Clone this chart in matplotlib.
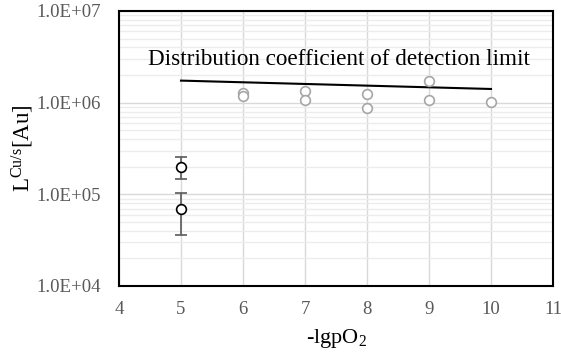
import numpy as np
import matplotlib.pyplot as plt
from matplotlib.ticker import LogLocator, NullFormatter

plt.rcParams['font.family'] = ['Liberation Serif', 'DejaVu Serif']
plt.rcParams['mathtext.fontset'] = 'custom'
plt.rcParams['mathtext.rm'] = 'Liberation Serif'
plt.rcParams['mathtext.it'] = 'Liberation Serif:italic'

# detection limit points (grey)
det_x = [6, 6, 7, 7, 8, 8, 9, 9, 10]
det_y = [1.28e6, 1.18e6, 1.34e6, 1.08e6, 1.25e6, 0.88e6, 1.72e6, 1.07e6, 1.02e6]

# distribution coefficient of detection limit (line)
lim_x = [5, 10]
lim_y = [1.74e6, 1.41e6]

# measured values with error bars
meas_x = [5, 5]
meas_y = [1.98e5, 7.0e4]
meas_lo = [1.47e5, 3.64e4]
meas_hi = [2.54e5, 1.04e5]

fig = plt.figure(figsize=(5.61, 3.57), dpi=100)
ax = fig.add_axes([0.2121, 0.1989, 0.7736, 0.7703])

ax.set_yscale('log')
ax.set_xlim(4, 11)
ax.set_ylim(1e4, 1e7)

ax.grid(True, which='major', color='#d9d9d9', linewidth=1.0)
ax.yaxis.set_minor_locator(LogLocator(base=10, subs=np.arange(2, 10)))
ax.yaxis.set_minor_formatter(NullFormatter())
ax.grid(True, which='minor', axis='y', color='#ececec', linewidth=1.0)
ax.set_axisbelow(True)

ax.plot(lim_x, lim_y, color='black', linewidth=1.5, zorder=3)
ax.plot(det_x, det_y, 'o', markersize=7, markerfacecolor='white',
        markeredgecolor='#a6a6a6', markeredgewidth=1.2, zorder=4)

yerr = [np.array(meas_y) - np.array(meas_lo), np.array(meas_hi) - np.array(meas_y)]
ax.errorbar(meas_x, meas_y, yerr=yerr, fmt='o', markersize=7,
            markerfacecolor='white', markeredgecolor='black', markeredgewidth=1.2,
            ecolor='#595959', elinewidth=1.2, capsize=4, capthick=1.2, zorder=5)

ax.text(4.47, 2.93e6, 'Distribution coefficient of detection limit',
        fontsize=16.7, va='center', ha='left', color='black')

ax.set_xticks(range(4, 12))
ax.set_yticks([1e4, 1e5, 1e6, 1e7])
ax.set_yticklabels(['1.0E+04', '1.0E+05', '1.0E+06', '1.0E+07'])
ax.tick_params(axis='both', which='both', length=0, labelsize=13.5,
               labelcolor='#595959')
ax.tick_params(axis='y', pad=13)
ax.tick_params(axis='x', pad=11)

for s in ax.spines.values():
    s.set_color('black')
    s.set_linewidth(1.5)

ax.set_xlabel(r'-lgpO$_2$', fontsize=16, labelpad=6)
ax.set_ylabel(r'L$^{\mathrm{Cu/s}}$[Au]', fontsize=16.5, labelpad=0)

fig.savefig('out.png', dpi=100)
